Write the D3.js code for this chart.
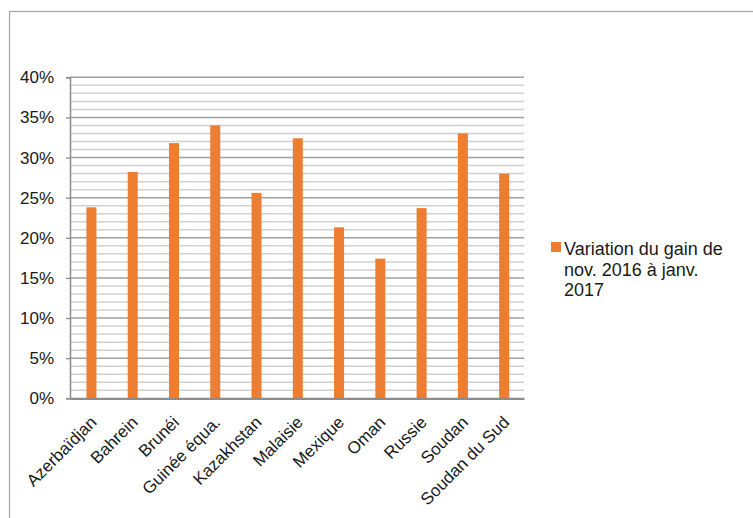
<!DOCTYPE html>
<html>
<head>
<meta charset="utf-8">
<script src="https://cdn.jsdelivr.net/npm/d3@7"></script>
<style>
  html, body { margin: 0; padding: 0; background: #fff; }
  svg { display: block; font-family: "Liberation Sans", Arial, sans-serif; }
</style>
</head>
<body>
<svg id="chart" width="753" height="518"></svg>
<script>
// Countries and their gain variation (Nov. 2016 → Jan. 2017)
const categories = ["Azerbaïdjan", "Bahrein", "Brunéi", "Guinée équa.", "Kazakhstan",
  "Malaisie", "Mexique", "Oman", "Russie", "Soudan", "Soudan du Sud"];
const values = [0.238, 0.282, 0.318, 0.340, 0.256, 0.324, 0.213, 0.174, 0.237, 0.330, 0.280];
const majorTicks = [0, 0.05, 0.10, 0.15, 0.20, 0.25, 0.30, 0.35, 0.40];
const minorTicks = d3.range(0, 41).map(d => d / 100);
const seriesName = ["Variation du gain de", "nov. 2016 à janv.", "2017"];

const svg = d3.select("#chart");
const plot = { left: 70, right: 524, top: 77.3, bottom: 398.3 };
const barColor = "#ED7D31";
const textColor = "#1a1a1a";
const font = "Liberation Sans, Arial, sans-serif";

// Outer chart frame
svg.append("rect")
  .attr("x", 9.5).attr("y", 11.5)
  .attr("width", 760).attr("height", 520)
  .attr("fill", "#fff").attr("stroke", "#a6a6a6").attr("stroke-width", 1.2);

const x = d3.scaleBand().domain(categories).range([plot.left, plot.right]);
const y = d3.scaleLinear().domain([0, 0.40]).range([plot.bottom, plot.top]);

// Minor gridlines (1%)
svg.append("g").selectAll("line")
  .data(minorTicks.filter(d => Math.round(d * 100) % 5 !== 0))
  .join("line")
  .attr("x1", plot.left).attr("x2", plot.right)
  .attr("y1", d => y(d)).attr("y2", d => y(d))
  .attr("stroke", "#d0d0d0").attr("stroke-width", 1.5);

// Major gridlines (5%)
svg.append("g").selectAll("line")
  .data(majorTicks.filter(d => d > 0))
  .join("line")
  .attr("x1", plot.left).attr("x2", plot.right)
  .attr("y1", d => y(d)).attr("y2", d => y(d))
  .attr("stroke", "#a0a0a0").attr("stroke-width", 1.5);

// Bars
const barW = 10;
svg.append("g").selectAll("rect")
  .data(categories)
  .join("rect")
  .attr("x", (d) => x(d) + x.bandwidth() / 2 - barW / 2 + 0.8)
  .attr("width", barW)
  .attr("y", (d, i) => y(values[i]))
  .attr("height", (d, i) => y(0) - y(values[i]))
  .attr("fill", barColor);

// Y axis
const yAxis = d3.axisLeft(y).tickValues(majorTicks).tickSize(4).tickPadding(12)
  .tickFormat(d3.format(".0%"));
const gy = svg.append("g").attr("transform", `translate(${plot.left},0)`).call(yAxis);
gy.select(".domain").attr("stroke", "#8c8c8c").attr("stroke-width", 1.5);
gy.selectAll(".tick line").attr("stroke", "#8c8c8c").attr("stroke-width", 1.3);
gy.selectAll(".tick text").attr("font-size", 17).attr("fill", textColor)
  .attr("font-family", font);

// X axis
const xAxis = d3.axisBottom(x).tickSize(0).tickPadding(0);
const gx = svg.append("g").attr("transform", `translate(0,${plot.bottom})`).call(xAxis);
gx.select(".domain").attr("stroke", "#8c8c8c").attr("stroke-width", 2.2);
gx.selectAll(".tick text")
  .attr("font-size", 17).attr("fill", textColor)
  .attr("font-family", font)
  .attr("text-anchor", "end")
  .attr("dy", null).attr("y", 0)
  .attr("transform", "translate(7,25) rotate(-45)");

// Legend
const lg = svg.append("g").attr("transform", "translate(551,242)");
lg.append("rect").attr("width", 10).attr("height", 10).attr("fill", barColor);
lg.append("text")
  .attr("font-size", 18).attr("fill", textColor)
  .attr("font-family", font)
  .selectAll("tspan").data(seriesName).join("tspan")
  .attr("x", 13).attr("y", (d, i) => 13 + i * 20.5)
  .text(d => d);
</script>
</body>
</html>
